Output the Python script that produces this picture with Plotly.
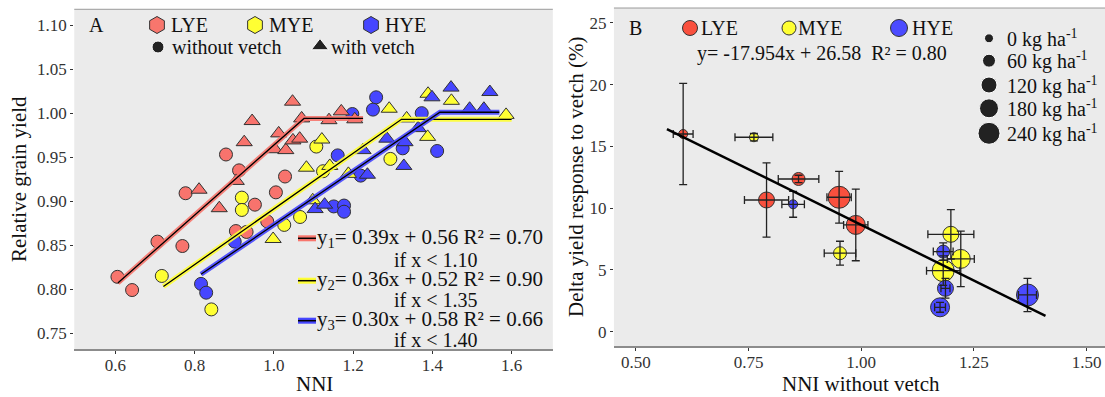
import plotly.graph_objects as go

# ---------------- Panel A data ----------------
lye_wo_x = [0.605, 0.642, 0.706, 0.769, 0.777, 0.879, 0.912, 0.904, 0.931, 0.952, 0.983, 1.005, 1.028]
lye_wo_y = [0.814, 0.799, 0.854, 0.849, 0.909, 0.953, 0.935, 0.866, 0.865, 0.896, 0.877, 0.910, 0.928]
lye_w_x = [0.811, 0.862, 0.905, 0.925, 0.945, 1.002, 1.012, 1.030, 1.047, 1.048, 1.065, 1.070, 1.139, 1.170, 1.204]
lye_w_y = [0.913, 0.892, 0.923, 0.967, 0.991, 0.959, 0.977, 0.958, 1.013, 0.969, 0.971, 0.994, 0.992, 1.002, 0.993]
mye_wo_x = [0.717, 0.842, 0.919, 0.919, 1.026, 1.066, 1.107, 1.124, 1.294]
mye_wo_y = [0.815, 0.777, 0.904, 0.890, 0.873, 0.882, 0.962, 0.934, 0.948]
mye_w_x = [0.998, 1.082, 1.098, 1.121, 1.141, 1.188, 1.291, 1.335, 1.388, 1.389, 1.448, 1.586]
mye_w_y = [0.857, 0.938, 0.901, 0.970, 0.940, 0.931, 1.005, 0.994, 0.973, 1.022, 1.014, 0.998]
hye_wo_x = [0.816, 0.829, 0.901, 1.151, 1.177, 1.177, 1.161, 1.198, 1.250, 1.258, 1.219, 1.325, 1.373, 1.412]
hye_wo_y = [0.806, 0.796, 0.854, 0.894, 0.895, 0.888, 0.952, 0.999, 1.004, 1.018, 0.929, 0.960, 1.000, 0.957]
hye_w_x = [1.104, 1.128, 1.225, 1.236, 1.285, 1.331, 1.328, 1.364, 1.399, 1.447, 1.494, 1.530, 1.545]
hye_w_y = [0.891, 0.896, 0.958, 0.930, 0.971, 0.967, 0.940, 0.983, 1.018, 1.029, 1.005, 1.005, 1.024]

# segmented fits (vertices)
lye_fit_x = [0.606, 1.076, 1.225]
lye_fit_y = [0.807, 0.994, 0.994]
mye_fit_x = [0.721, 1.322, 1.600]
mye_fit_y = [0.803, 0.993, 0.993]
hye_fit_x = [0.816, 1.419, 1.569]
hye_fit_y = [0.817, 1.001, 1.001]

a_xticks = [0.6, 0.8, 1.0, 1.2, 1.4, 1.6]
a_xticktext = ["0.6", "0.8", "1.0", "1.2", "1.4", "1.6"]
a_yticks = [0.75, 0.80, 0.85, 0.90, 0.95, 1.00, 1.05, 1.10]
a_yticktext = ["0.75", "0.80", "0.85", "0.90", "0.95", "1.00", "1.05", "1.10"]

# ---------------- Panel B data ----------------
b_lye_x = [0.605, 0.861, 0.790, 0.988, 0.951]
b_lye_y = [16.0, 12.36, 10.66, 8.64, 10.88]
b_lye_xerr = [0.022, 0.045, 0.049, 0.027, 0.027]
b_lye_yerr = [4.1, 0.3, 3.0, 2.9, 2.1]
b_lye_n = [0, 60, 120, 180, 240]

b_mye_x = [0.762, 0.953, 1.199, 1.221, 1.182]
b_mye_y = [15.74, 6.35, 7.88, 5.89, 4.94]
b_mye_xerr = [0.042, 0.035, 0.051, 0.030, 0.037]
b_mye_yerr = [0.3, 0.97, 2.0, 2.25, 1.2]
b_mye_n = [0, 60, 120, 180, 240]

b_hye_x = [0.849, 1.182, 1.187, 1.175, 1.369]
b_hye_y = [10.31, 6.48, 3.51, 1.97, 2.97]
b_hye_xerr = [0.025, 0.022, 0.010, 0.012, 0.020]
b_hye_yerr = [1.05, 0.7, 0.8, 0.4, 1.35]
b_hye_n = [0, 60, 120, 180, 240]

b_fit_x = [0.569, 1.409]
b_fit_y = [16.4, 1.28]

b_xticks = [0.50, 0.75, 1.00, 1.25, 1.50]
b_xticktext = ["0.50", "0.75", "1.00", "1.25", "1.50"]
b_yticks = [0, 5, 10, 15, 20, 25]

size_levels = [0, 60, 120, 180, 240]
size_px = {0: 9, 60: 13, 120: 16, 180: 19, 240: 22}

FONT = "Liberation Serif"
A_RED, A_YEL, A_BLU = "#F8766D", "#FFFF33", "#4646FF"
B_RED, B_YEL, B_BLU = "#F9503E", "#FFFF33", "#4B4BFF"
EDGE = "#333333"
DARK = "#222222"

fig = go.Figure()

# Panel A points
for xs, ys, col, sym, sz in [
    (lye_wo_x, lye_wo_y, A_RED, "circle", 13),
    (mye_wo_x, mye_wo_y, A_YEL, "circle", 13),
    (hye_wo_x, hye_wo_y, A_BLU, "circle", 13),
    (lye_w_x, lye_w_y, A_RED, "triangle-up", 14),
    (mye_w_x, mye_w_y, A_YEL, "triangle-up", 14),
    (hye_w_x, hye_w_y, A_BLU, "triangle-up", 14),
]:
    fig.add_trace(go.Scatter(x=xs, y=ys, mode="markers", xaxis="x", yaxis="y",
                             marker=dict(color=col, symbol=sym, size=sz, opacity=1,
                                         line=dict(color=EDGE, width=1)),
                             showlegend=False, hoverinfo="skip"))

# Panel A fitted lines
for xs, ys, col in [(lye_fit_x, lye_fit_y, A_RED), (mye_fit_x, mye_fit_y, A_YEL),
                    (hye_fit_x, hye_fit_y, A_BLU)]:
    fig.add_trace(go.Scatter(x=xs, y=ys, mode="lines", xaxis="x", yaxis="y",
                             line=dict(color=col, width=5), opacity=0.9,
                             showlegend=False, hoverinfo="skip"))
    fig.add_trace(go.Scatter(x=xs, y=ys, mode="lines", xaxis="x", yaxis="y",
                             line=dict(color="black", width=1.3),
                             showlegend=False, hoverinfo="skip"))

# Panel B points
for xs, ys, ns, col in [
    (b_lye_x, b_lye_y, b_lye_n, B_RED),
    (b_mye_x, b_mye_y, b_mye_n, B_YEL),
    (b_hye_x, b_hye_y, b_hye_n, B_BLU),
]:
    fig.add_trace(go.Scatter(x=xs, y=ys, mode="markers", xaxis="x2", yaxis="y2",
                             marker=dict(color=col, size=[size_px[n] for n in ns], opacity=1,
                                         line=dict(color=EDGE, width=1)),
                             showlegend=False, hoverinfo="skip"))
for xs, ys, xe, ye in [
    (b_lye_x, b_lye_y, b_lye_xerr, b_lye_yerr),
    (b_mye_x, b_mye_y, b_mye_xerr, b_mye_yerr),
    (b_hye_x, b_hye_y, b_hye_xerr, b_hye_yerr),
]:
    fig.add_trace(go.Scatter(x=xs, y=ys, mode="markers", xaxis="x2", yaxis="y2",
                             marker=dict(size=1, opacity=0),
                             error_x=dict(type="data", array=xe, color=DARK, thickness=1.3, width=4),
                             error_y=dict(type="data", array=ye, color=DARK, thickness=1.3, width=4),
                             showlegend=False, hoverinfo="skip"))
fig.add_trace(go.Scatter(x=b_fit_x, y=b_fit_y, mode="lines", xaxis="x2", yaxis="y2",
                         line=dict(color="black", width=2.5), showlegend=False, hoverinfo="skip"))

# ---------------- legend glyphs on a pixel overlay axis ----------------
leg_a_x = [157, 255, 371]
leg_a_col = [A_RED, A_YEL, A_BLU]
fig.add_trace(go.Scatter(x=leg_a_x, y=[25, 25, 25], mode="markers", xaxis="x3", yaxis="y3",
                         marker=dict(symbol="hexagon", size=17, color=leg_a_col, opacity=1,
                                     line=dict(color=EDGE, width=1)),
                         showlegend=False, hoverinfo="skip"))
fig.add_trace(go.Scatter(x=[158, 320], y=[47, 46], mode="markers", xaxis="x3", yaxis="y3",
                         marker=dict(symbol=["circle", "triangle-up"], size=[12, 15], color=DARK, opacity=1),
                         showlegend=False, hoverinfo="skip"))
fig.add_trace(go.Scatter(x=[690, 789, 899], y=[28, 28, 28], mode="markers", xaxis="x3", yaxis="y3",
                         marker=dict(symbol="circle", size=[15, 14, 17], color=[B_RED, B_YEL, B_BLU],
                                     opacity=1, line=dict(color=EDGE, width=1)),
                         showlegend=False, hoverinfo="skip"))
fig.add_trace(go.Scatter(x=[989] * 5, y=[38.3, 60.7, 85, 108.3, 133.3], mode="markers",
                         xaxis="x3", yaxis="y3",
                         marker=dict(symbol="circle", size=[size_px[n] for n in size_levels],
                                     color=DARK, opacity=1),
                         showlegend=False, hoverinfo="skip"))
# equation swatches
for yy, col in [(238.3, A_RED), (280.7, A_YEL), (320.7, A_BLU)]:
    fig.add_trace(go.Scatter(x=[298, 316], y=[yy, yy], mode="lines", xaxis="x3", yaxis="y3",
                             line=dict(color=col, width=6), showlegend=False, hoverinfo="skip"))
    fig.add_trace(go.Scatter(x=[298, 316], y=[yy, yy], mode="lines", xaxis="x3", yaxis="y3",
                             line=dict(color="black", width=1.5), showlegend=False, hoverinfo="skip"))

ann = []
def txt(x, y, s, size=20, xanchor="left", angle=0, color="#111111"):
    ann.append(dict(x=x, y=y, xref="x3", yref="y3", text=s, showarrow=False,
                    xanchor=xanchor, yanchor="middle", textangle=angle, borderpad=0,
                    font=dict(family=FONT, size=size, color=color)))

txt(96, 25, "A", 20, "center")
txt(170, 25, "LYE"); txt(268, 25, "MYE"); txt(384, 25, "HYE")
txt(171, 47, "without vetch"); txt(330, 47, "with vetch")
txt(316, 237.5, "y<sub>1</sub>= 0.39x + 0.56 R² = 0.70", 21)
txt(436, 259.5, "if x < 1.10", 20, "center")
txt(316, 279.8, "y<sub>2</sub>= 0.36x + 0.52 R² = 0.90", 21)
txt(436, 299.5, "if x < 1.35", 20, "center")
txt(316, 319.8, "y<sub>3</sub>= 0.30x + 0.58 R² = 0.66", 21)
txt(436, 339.5, "if x < 1.40", 20, "center")
txt(314, 384, "NNI", 21, "center")
txt(19, 179, "Relative grain yield", 21, "center", -90)

txt(635, 28, "B", 20, "center")
txt(700, 28, "LYE"); txt(797, 28, "MYE"); txt(911, 28, "HYE")
txt(822, 53, "y= -17.954x + 26.58  R² = 0.80", 20, "center")
for yy, n in zip([38.3, 60.7, 85, 108.3, 133.3], size_levels):
    txt(1006, yy, f"{n} kg ha<sup>-1</sup>", 20)
txt(861, 384, "NNI without vetch", 21, "center")
txt(576, 177, "Delta yield response to vetch (%)", 21, "center", -90)

tickfont = dict(family=FONT, size=17, color="#333333")
axis_common = dict(showgrid=False, zeroline=False, ticks="outside", ticklen=3,
                   tickcolor="#333333", tickwidth=1, tickfont=tickfont)

shapes = []
for xr, yr in [("x", "y"), ("x2", "y2")]:
    shapes.append(dict(type="rect", xref=f"{xr} domain", yref=f"{yr} domain",
                       x0=0, x1=1, y0=0, y1=1, fillcolor="#EBEBEB",
                       line=dict(width=0), layer="below"))
    shapes.append(dict(type="line", xref=f"{xr} domain", yref=f"{yr} domain",
                       x0=0, x1=1, y0=1, y1=1, line=dict(color="#9a9a9a", width=1), layer="above"))

fig.update_layout(
    width=1105, height=397, margin=dict(l=0, r=0, t=0, b=0),
    paper_bgcolor="white", plot_bgcolor="rgba(0,0,0,0)",
    showlegend=False,
    xaxis=dict(domain=[0.0672, 0.5003], range=[0.496, 1.704], anchor="y",
               tickvals=a_xticks, ticktext=a_xticktext, ticklabelstandoff=-3,
               showline=True, linecolor="#8c8c8c", linewidth=2, **axis_common),
    yaxis=dict(domain=[0.1209, 0.9766], range=[0.732, 1.118], anchor="x",
               tickvals=a_yticks, ticktext=a_yticktext, showline=False, **axis_common),
    xaxis2=dict(domain=[0.5556, 1.0], range=[0.4514, 1.541], anchor="y2",
                tickvals=b_xticks, ticktext=b_xticktext, ticklabelstandoff=-3,
                showline=True, linecolor="#8c8c8c", linewidth=2, **axis_common),
    yaxis2=dict(domain=[0.1285, 0.9798], range=[-1.16, 26.2], anchor="x2",
                tickvals=b_yticks, showline=False, **axis_common),
    xaxis3=dict(domain=[0, 1], range=[0, 1105], visible=False, anchor="y3", fixedrange=True),
    yaxis3=dict(domain=[0, 1], range=[397, 0], visible=False, anchor="x3", fixedrange=True),
    annotations=ann,
    shapes=shapes,
)

fig.write_html("out.html")
